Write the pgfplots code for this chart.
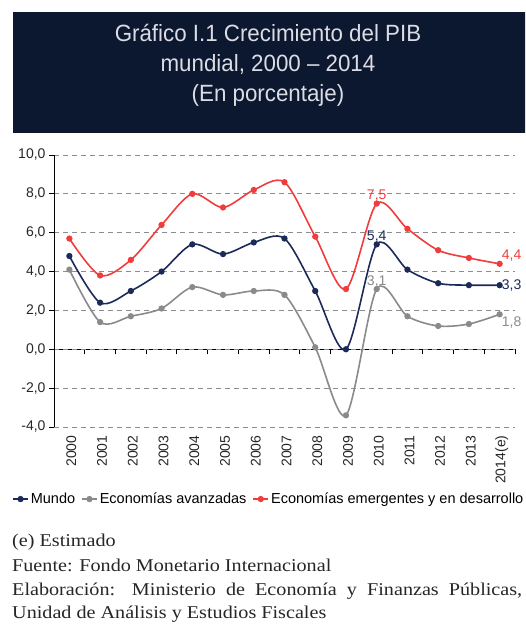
\documentclass[border=0pt]{standalone}
\usepackage{fontspec}
\usepackage{pgfplots}
\pgfplotsset{compat=1.18}
\setmainfont{Liberation Sans}
\newfontfamily\titlefont[FakeStretch=0.95]{Liberation Sans}
\newfontfamily\notefont[FakeStretch=1.12]{Liberation Serif}
\definecolor{navy}{HTML}{1B2A59}
\definecolor{redp}{HTML}{F03C3C}
\definecolor{grayp}{HTML}{8A8A8A}
\definecolor{titlebg}{HTML}{0C1730}
\definecolor{titlefg}{HTML}{DCDDE4}
\pgfplotstableread{
x mundo avanz emerg
0 4.8 4.1 5.7
1 2.4 1.4 3.8
2 3.0 1.7 4.6
3 4.0 2.1 6.4
4 5.4 3.2 8.0
5 4.9 2.8 7.3
6 5.5 3.0 8.2
7 5.7 2.8 8.6
8 3.0 0.1 5.8
9 0.0 -3.4 3.1
10 5.4 3.1 7.5
11 4.1 1.7 6.2
12 3.4 1.2 5.1
13 3.3 1.3 4.7
14 3.3 1.8 4.4
}\datatable
\begin{document}
\begin{tikzpicture}[x=1pt,y=1pt]
\useasboundingbox (0,0) rectangle (525,626);
\clip (0,0) rectangle (525,626);
\fill[titlebg] (13,493) rectangle (530,614);
\node[anchor=base, text=titlefg, font=\titlefont\fontsize{23.5}{23.5}\selectfont] at (268,584) {Gráfico I.1 Crecimiento del PIB};
\node[anchor=base, text=titlefg, font=\titlefont\fontsize{23.5}{23.5}\selectfont] at (268,554) {mundial, 2000 – 2014};
\node[anchor=base, text=titlefg, font=\titlefont\fontsize{23.5}{23.5}\selectfont] at (268,524) {(En porcentaje)};
% zero line axis
\begin{axis}[at={(54pt,199pt)}, anchor=south west, scale only axis,
  width=461pt, height=272pt, xmin=-0.5, xmax=14.5, ymin=-4, ymax=10,
  axis x line=middle, axis y line=none,
  x axis line style={-, black, line width=1pt},
  xtick={-0.5,0.5,...,14.5}, xticklabels={}, ytick=\empty,
  x tick style={black, line width=0.9pt, yshift=-2.5pt},
  major tick length=5pt]
\end{axis}
\begin{axis}[at={(54pt,199pt)}, anchor=south west, scale only axis,
  width=461pt, height=272pt, xmin=-0.5, xmax=14.5, ymin=-4, ymax=10,
  axis y line*=left, axis x line*=bottom,
  x axis line style={draw=none},
  y axis line style={-, black, line width=1pt},
  xtick={0,...,14},
  xticklabels={2000,2001,2002,2003,2004,2005,2006,2007,2008,2009,2010,2011,2012,2013,2014(e)},
  xticklabel style={rotate=90, anchor=east, font=\fontsize{14}{14}\selectfont, text=black!85, yshift=-2pt},
  x tick style={draw=none},
  ytick={-4,-2,0,2,4,6,8,10},
  yticklabels={{-4,0},{-2,0},{0,0},{2,0},{4,0},{6,0},{8,0},{10,0}},
  yticklabel style={font=\fontsize{14}{14}\selectfont, text=black!85},
  y tick style={black, line width=0.9pt},
  tick align=outside, major tick length=5pt,
  ymajorgrids, grid style={dash pattern=on 5pt off 4pt, black!45, line width=0.9pt},
  legend columns=3,
  legend style={at={(axis description cs:-0.091,-0.265)}, anchor=west, draw=none, fill=none, inner sep=0pt,
    font=\fontsize{14.5}{14.5}\selectfont, /tikz/every even column/.append style={column sep=4pt}},
  legend image code/.code={\draw[#1,mark repeat=2,mark phase=2] plot coordinates {(0pt,0pt)(7.5pt,0pt)(15pt,0pt)};},
  every axis plot/.append style={line width=1.6pt, smooth, mark=*, mark size=2.3pt},
  clip=false]
\addplot[navy, mark options={fill=navy}] table[x=x,y=mundo] {\datatable};
\addlegendentry{Mundo}
\addplot[grayp, mark options={fill=grayp}] table[x=x,y=avanz] {\datatable};
\addlegendentry{Economías avanzadas}
\addplot[redp, mark options={fill=redp}] table[x=x,y=emerg] {\datatable};
\addlegendentry{Economías emergentes y en desarrollo}
\node[text=redp, font=\fontsize{14}{14}\selectfont, anchor=south, inner sep=2pt] at (axis cs:10,7.5) {7,5};
\node[text=navy, font=\fontsize{14}{14}\selectfont, anchor=south, inner sep=2pt] at (axis cs:10,5.4) {5,4};
\node[text=grayp, font=\fontsize{14}{14}\selectfont, anchor=south, inner sep=2pt] at (axis cs:10,3.1) {3,1};
\node[text=redp, font=\fontsize{14}{14}\selectfont, anchor=south west, inner sep=2pt] at (axis cs:14,4.4) {4,4};
\node[text=navy, font=\fontsize{14}{14}\selectfont, anchor=west, inner sep=2pt] at (axis cs:14,3.3) {3,3};
\node[text=grayp, font=\fontsize{14}{14}\selectfont, anchor=north west, inner sep=2pt] at (axis cs:14,1.8) {1,8};
\end{axis}
\node[anchor=base west, inner sep=0pt, font=\notefont\fontsize{18}{18}\selectfont, text=black!85] at (12,79) {(e) Estimado};
\node[anchor=base west, inner sep=0pt, font=\notefont\fontsize{18}{18}\selectfont, text=black!85] at (12,54) {Fuente: Fondo Monetario Internacional};
\node[anchor=base west, inner sep=0pt, text=black!85] at (12,30) {\parbox[t]{510pt}{\notefont\fontsize{18}{23}\selectfont Elaboración: Ministerio de Economía y Finanzas Públicas,\linebreak Unidad de Análisis y Estudios Fiscales}};
\end{tikzpicture}
\end{document}
